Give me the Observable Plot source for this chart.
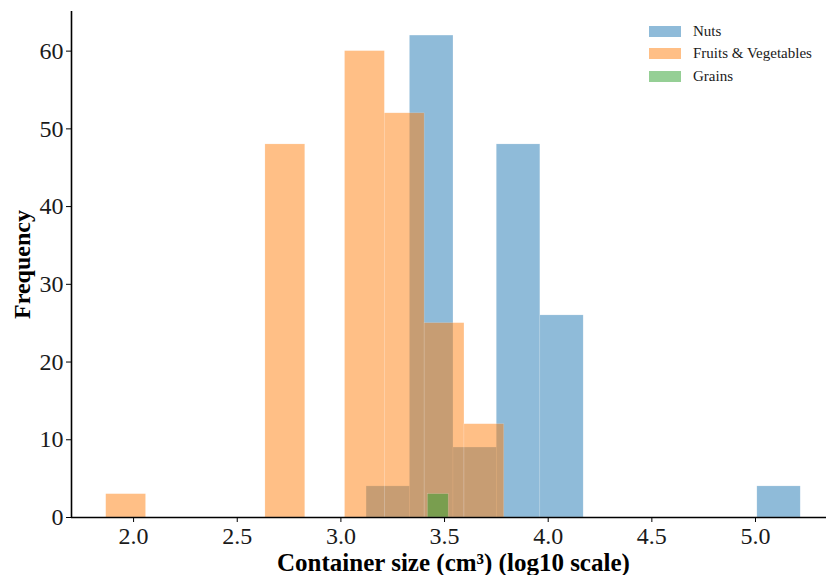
<!DOCTYPE html>
<html><head><meta charset="utf-8">
<script src="https://cdn.jsdelivr.net/npm/d3@7"></script>
<script src="https://cdn.jsdelivr.net/npm/@observablehq/plot@0.6"></script>
<style>
body{margin:0;background:#fff;}
#wrap{position:relative;width:826px;height:575px;overflow:hidden;}
#legend{position:absolute;left:649px;top:20px;font-family:"Liberation Serif",serif;font-size:15px;color:#1a1a1a;}
#legend .row{display:flex;align-items:center;height:22.5px;}
#legend .sw{width:32px;height:11px;margin-right:12px;}
</style></head><body><div id="wrap"><div id="legend"></div></div>
<script>
// Series names and base colours
const categories = ["Nuts", "Fruits & Vegetables", "Grains"];
const colors = ["#1f77b4", "#ff7f0e", "#2ca02c"];

// Histogram bins (log10 container size) and counts
const nutsEdges = [3.124, 3.333, 3.543, 3.752, 3.962, 4.171, 4.380, 4.590, 4.799, 5.009, 5.218];
const nutsCounts = [4, 62, 9, 48, 26, 0, 0, 0, 0, 4];

const fruitsEdges = [1.868, 2.060, 2.252, 2.444, 2.636, 2.828, 3.020, 3.212, 3.404, 3.596, 3.788];
const fruitsCounts = [3, 0, 0, 0, 48, 0, 60, 52, 25, 12];

const grainsEdges = [3.42, 3.52];
const grainsCounts = [3];

// Axis ticks and labels
const xTicks = [2.0, 2.5, 3.0, 3.5, 4.0, 4.5, 5.0];
const yTicks = [0, 10, 20, 30, 40, 50, 60];
const xLabel = "Container size (cm³) (log10 scale)";
const yLabel = "Frequency";
const xDomain = [1.7005, 5.3425];
const yDomain = [0, 65.1];

function toRows(edges, counts, name) {
  return counts.map((c, i) => ({series: name, x1: edges[i], x2: edges[i + 1], y: c})).filter(d => d.y > 0);
}
const series = [
  toRows(nutsEdges, nutsCounts, categories[0]),
  toRows(fruitsEdges, fruitsCounts, categories[1]),
  toRows(grainsEdges, grainsCounts, categories[2])
];

const barMarks = series.map((rows, i) => Plot.rect(rows, {
  x1: "x1", x2: "x2", y1: d => 0, y2: "y",
  fill: colors[i], fillOpacity: 0.5,
  stroke: "white", strokeOpacity: 0.3, strokeWidth: 0.5
}));

const plot = Plot.plot({
  width: 826, height: 575,
  marginLeft: 71, marginRight: 0, marginTop: 11, marginBottom: 58,
  style: {fontFamily: "'Liberation Serif', serif", fontSize: "24px", color: "#1a1a1a", background: "white", overflow: "visible"},
  x: {domain: xDomain},
  y: {domain: yDomain},
  marks: [
    ...barMarks,
    Plot.axisX({ticks: xTicks, tickFormat: d3.format(".1f"), tickSize: 5, tickPadding: 4, label: null, fontSize: 24, stroke: "black"}),
    Plot.axisY({ticks: yTicks, tickSize: 5, tickPadding: 3, label: null, fontSize: 24, stroke: "black"}),
    Plot.ruleY([0], {stroke: "black", strokeWidth: 1.6}),
    Plot.ruleX([xDomain[0]], {stroke: "black", strokeWidth: 1.6}),
    Plot.text([xLabel], {x: (xDomain[0] + 5.3855) / 2, frameAnchor: "bottom", text: d => d, lineAnchor: "middle", textAnchor: "middle", dy: 45, fontWeight: "bold", fontSize: 25, fill: "black"}),
    Plot.text([yLabel], {frameAnchor: "left", text: d => d, rotate: -90, textAnchor: "middle", lineAnchor: "middle", dx: -49, fontWeight: "bold", fontSize: 24, fill: "black"})
  ]
});
document.getElementById("wrap").prepend(plot);

const legend = document.getElementById("legend");
categories.forEach((name, i) => {
  const row = document.createElement("div");
  row.className = "row";
  const sw = document.createElement("div");
  sw.className = "sw";
  sw.style.background = colors[i];
  sw.style.opacity = 0.5;
  const t = document.createElement("span");
  t.textContent = name;
  row.appendChild(sw); row.appendChild(t);
  legend.appendChild(row);
});
</script></body></html>
